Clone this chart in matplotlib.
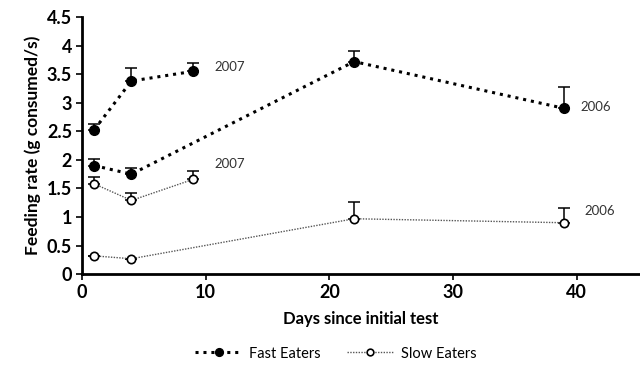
import matplotlib.pyplot as plt
import numpy as np

plt.rcParams['font.family'] = ['Lato', 'DejaVu Sans']

days_2007 = [1, 4, 9]
days_2006 = [1, 4, 22, 39]

fast_2007 = [2.53, 3.38, 3.55]
fast_2007_err = [0.09, 0.22, 0.15]
fast_2006 = [1.90, 1.75, 3.72, 2.90]
fast_2006_err = [0.12, 0.10, 0.18, 0.37]

slow_2007 = [1.58, 1.29, 1.66]
slow_2007_err = [0.12, 0.13, 0.14]
slow_2006 = [0.32, 0.27, 0.97, 0.90]
slow_2006_err = [0.0, 0.0, 0.30, 0.25]

xticks = [0, 10, 20, 30, 40]
yticks = [0, 0.5, 1, 1.5, 2, 2.5, 3, 3.5, 4, 4.5]
ytick_labels = ["0", "0.5", "1", "1.5", "2", "2.5", "3", "3.5", "4", "4.5"]

fig = plt.figure(figsize=(6.4, 3.7), dpi=100)
ax = fig.add_axes([0.128, 0.259, 0.87, 0.695])


def draw(x, y, err, fast, label=None):
    yerr = [np.zeros(len(err)), err]
    ax.errorbar(x, y, yerr=yerr, fmt='none', ecolor='black', elinewidth=1.1,
                capsize=4, capthick=1.1, zorder=2)
    if fast:
        ax.plot(x, y, linestyle=(0, (1, 1.6)), color='black', lw=2.2,
                marker='o', ms=7, mfc='black', mec='black', label=label, zorder=3)
    else:
        ax.plot(x, y, linestyle=(0, (1, 1)), color='#555555', lw=1.0,
                marker='o', ms=6, mfc='white', mec='black', mew=1.2,
                label=label, zorder=3)


draw(days_2007, fast_2007, fast_2007_err, True, "Fast Eaters")
draw(days_2006, fast_2006, fast_2006_err, True)
draw(days_2007, slow_2007, slow_2007_err, False, "Slow Eaters")
draw(days_2006, slow_2006, slow_2006_err, False)

ax.text(10.7, 3.62, "2007", fontsize=9.5, color='#333333', va='center')
ax.text(10.7, 1.92, "2007", fontsize=9.5, color='#333333', va='center')
ax.text(40.3, 2.93, "2006", fontsize=9.5, color='#333333', va='center')
ax.text(40.6, 1.10, "2006", fontsize=9.5, color='#333333', va='center')

ax.set_xlim(0, 45)
ax.set_ylim(0, 4.5)
ax.set_xticks(xticks)
ax.set_yticks(yticks)
ax.set_yticklabels(ytick_labels)
for lab in ax.get_xticklabels() + ax.get_yticklabels():
    lab.set_fontweight('bold')
    lab.set_fontsize(13)
ax.tick_params(direction='out', length=4, width=1.2, pad=3)

ax.spines['top'].set_visible(False)
ax.spines['right'].set_visible(False)
ax.spines['left'].set_linewidth(2)
ax.spines['bottom'].set_linewidth(2)

ax.set_xlabel("Days since initial test", fontsize=12, fontweight='bold', labelpad=7)
ax.set_ylabel("Feeding rate (g consumed/s)", fontsize=12.5, fontweight='bold', labelpad=4)

fig.legend(loc='lower center', bbox_to_anchor=(0.525, -0.01), ncol=2, frameon=False,
           fontsize=10.5, handlelength=3.2, handletextpad=0.5, columnspacing=1.8,
           markerscale=0.8)

plt.savefig("out.png", dpi=100)
